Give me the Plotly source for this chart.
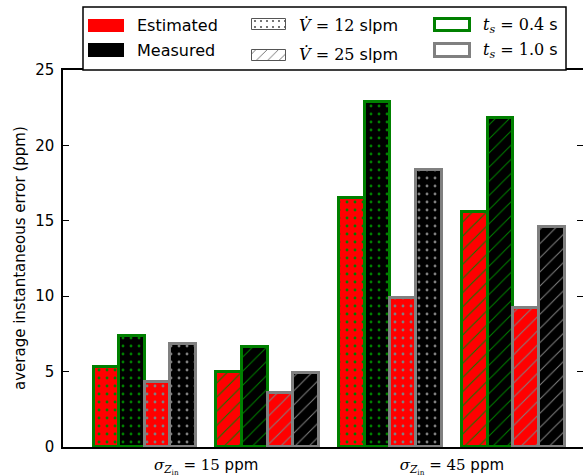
import numpy as np
import plotly.graph_objects as go

# ---------------- data ----------------
sigma_labels = [
    '<span style="font-family:DejaVu Serif"><i>σ</i><sub><i>Z</i><sub>in</sub></sub> = 15</span> ppm',
    '<span style="font-family:DejaVu Serif"><i>σ</i><sub><i>Z</i><sub>in</sub></sub> = 45</span> ppm',
]
flow_rates = ["12 slpm", "25 slpm"]
sample_times = ["0.4 s", "1.0 s"]

# values for [sigma=15 ppm, sigma=45 ppm]
est_12_04 = [5.30, 16.50]
meas_12_04 = [7.36, 22.90]
est_12_10 = [4.34, 9.91]
meas_12_10 = [6.80, 18.34]
est_25_04 = [4.97, 15.58]
meas_25_04 = [6.60, 21.85]
est_25_10 = [3.61, 9.25]
meas_25_10 = [4.90, 14.62]

y_ticks = [0, 5, 10, 15, 20, 25]

# ---------------- styling ----------------
RED = "#ff0000"
BLACK = "#000000"
GREEN = "#008000"
GRAY = "#808080"
SANS = "DejaVu Sans"
SERIF = "DejaVu Serif"

W, H = 583, 476
CLUSTER_STEP = 4.8

series = [
    # (flow index, bar index in cluster, values, fill, edge, pattern)
    (0, 0, est_12_04, RED, GREEN, "."),
    (0, 1, meas_12_04, BLACK, GREEN, "."),
    (0, 2, est_12_10, RED, GRAY, "."),
    (0, 3, meas_12_10, BLACK, GRAY, "."),
    (1, 0, est_25_04, RED, GREEN, "/"),
    (1, 1, meas_25_04, BLACK, GREEN, "/"),
    (1, 2, est_25_10, RED, GRAY, "/"),
    (1, 3, meas_25_10, BLACK, GRAY, "/"),
]

fig = go.Figure()

for f, i, vals, fill, edge, shape in series:
    xs = [(2 * g + f) * CLUSTER_STEP + i + 0.5 for g in range(len(vals))]
    fig.add_trace(go.Bar(
        x=xs, y=vals, width=1.0,
        marker=dict(
            color=fill,
            line=dict(color=edge, width=3),
            pattern=dict(shape=shape, fgcolor=edge, bgcolor=fill,
                         size=8 if shape == "." else 10,
                         solidity=0.1 if shape == "." else 0.1,
                         fillmode="replace"),
        ),
        xaxis="x", yaxis="y", showlegend=False, hoverinfo="skip",
    ))

# ---------------- custom legend (pixel axis on top) ----------------
legend_patches = [
    # x0, x1, y0, y1, fill, edge, edge width, pattern
    (88, 124, 19, 32, RED, RED, 0, ""),
    (88, 124, 43, 57, BLACK, BLACK, 0, ""),
    (252, 286, 19, 30, "white", "#555555", 1, "."),
    (252, 286, 50, 61, "white", "#555555", 1, "/"),
    (435, 470, 19, 31, "white", GREEN, 3, ""),
    (435, 470, 44, 57, "white", GRAY, 3, ""),
]
for x0, x1, y0, y1, fill, edge, lw, shape in legend_patches:
    fig.add_trace(go.Bar(
        x=[(x0 + x1) / 2], y=[y1 - y0], base=[y0], width=[x1 - x0],
        marker=dict(
            color=fill,
            line=dict(color=edge, width=lw),
            pattern=dict(shape=shape, fgcolor="#555555", bgcolor=fill,
                         size=6 if shape == "." else 8,
                         solidity=0.1, fillmode="replace"),
        ),
        xaxis="x2", yaxis="y2", showlegend=False, hoverinfo="skip",
    ))

fig.add_shape(type="rect", xref="x2", yref="y2", x0=83, x1=566, y0=7, y1=70,
              line=dict(color="black", width=1.5), fillcolor="white", layer="below")

legend_texts = [
    (135, 25.5, "Estimated"),
    (135, 50.5, "Measured"),
    (297, 25, f'<span style="font-family:{SERIF}"><i>V̇</i> = 12</span> slpm'),
    (297, 54, f'<span style="font-family:{SERIF}"><i>V̇</i> = 25</span> slpm'),
    (481, 25.5, f'<span style="font-family:{SERIF}"><i>t</i><sub><i>s</i></sub> = 0.4</span> s'),
    (481, 50.5, f'<span style="font-family:{SERIF}"><i>t</i><sub><i>s</i></sub> = 1.0</span> s'),
]
for x, y, t in legend_texts:
    fig.add_annotation(x=x, y=y, xref="x2", yref="y2", text=t, showarrow=False,
                       xanchor="left", yanchor="middle",
                       font=dict(family=SANS, size=16, color="black"))

# y-axis title
fig.add_annotation(x=20 / W, y=1 - 258 / H, xref="paper", yref="paper",
                   text="average instantaneous error (ppm)", textangle=-90,
                   showarrow=False, xanchor="center", yanchor="middle",
                   font=dict(family=SANS, size=15, color="black"))

x0_px, unit_px = 93.5, 25.6
x_lo = (63 - x0_px) / unit_px
x_hi = (W - x0_px) / unit_px

fig.update_layout(
    width=W, height=H, autosize=False,
    margin=dict(l=0, r=0, t=0, b=0, pad=0),
    paper_bgcolor="white", plot_bgcolor="rgba(0,0,0,0)",
    barmode="overlay", bargap=0,
    showlegend=False,
    font=dict(family=SANS, size=15, color="black"),
    xaxis=dict(
        domain=[63 / W, 1], range=[x_lo, x_hi], automargin=False,
        tickvals=[g * 2 * CLUSTER_STEP + 4.4 for g in range(len(sigma_labels))],
        ticktext=sigma_labels, ticks="", showgrid=False, zeroline=False,
        showline=True, linecolor="black", linewidth=1.5, mirror=True,
        tickfont=dict(family=SANS, size=15), anchor="y", ticklabelstandoff=3,
    ),
    yaxis=dict(
        domain=[29 / H, 406 / H], range=[0, 25], automargin=False,
        tickvals=y_ticks, ticktext=[str(v) for v in y_ticks],
        ticks="inside", ticklen=6, tickwidth=1, tickcolor="black",
        showgrid=False, zeroline=False, showline=True, linecolor="black",
        linewidth=1.5, tickfont=dict(family=SANS, size=15), ticklabelstandoff=4,
        anchor="x",
    ),
    yaxis3=dict(
        overlaying="y", side="right", range=[0, 25], tickvals=y_ticks,
        ticks="inside", ticklen=6, tickwidth=1, tickcolor="black", automargin=False,
        showticklabels=False, showgrid=False, zeroline=False, showline=False,
        anchor="x",
    ),
    xaxis2=dict(domain=[0, 1], range=[0, W], visible=False, anchor="y2",
                fixedrange=True, automargin=False),
    yaxis2=dict(domain=[(H - 72) / H, 1], range=[72, 0], visible=False, anchor="x2",
                fixedrange=True, automargin=False),
)

# dummy trace to activate yaxis3 ticks
fig.add_trace(go.Scatter(x=[x_lo], y=[0], mode="markers", marker=dict(opacity=0),
                         xaxis="x", yaxis="y3", showlegend=False, hoverinfo="skip"))

fig.write_html("out.html")
